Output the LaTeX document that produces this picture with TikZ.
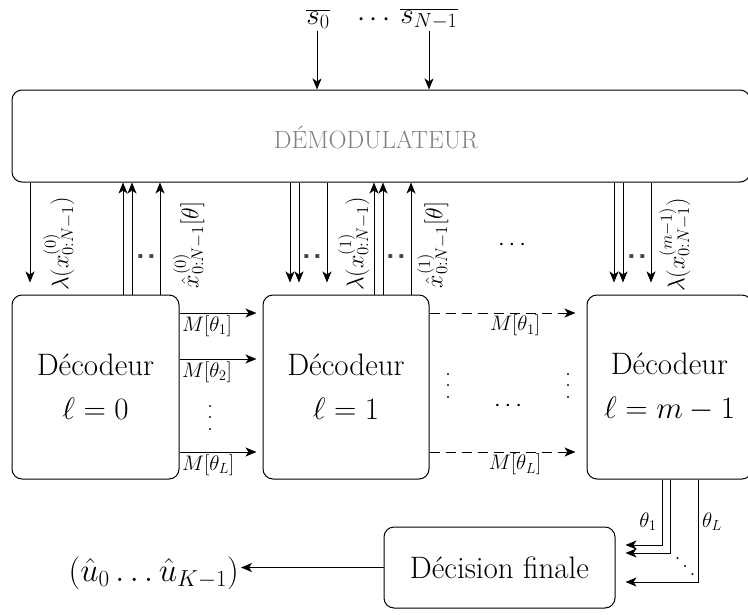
\RequirePackage{fix-cm}
\documentclass[tikz,border=0pt]{standalone}
\usepackage{fontspec}
\usetikzlibrary{arrows.meta,calc}
\newcommand\myvd{\vbox{\baselineskip=0.48em\lineskiplimit=-20pt\hbox{.}\hbox{.}\hbox{.}}}
\newcommand\mydd{\mbox{\raisebox{16pt}{.}\kern1.5pt\raisebox{8pt}{.}\kern1.5pt.}}
\tikzset{
  box/.style={draw, rounded corners=10pt, line width=1pt},
  arr/.style={-{Stealth[length=11pt,width=9pt,inset=3pt]}, line width=1pt},
  lab/.style={font=\fontsize{24}{28}\selectfont, inner sep=0pt},
  small/.style={font=\fontsize{21}{24}\selectfont, inner sep=0pt},
  big/.style={font=\fontsize{31}{44}\selectfont},
  top/.style={font=\fontsize{29}{34}\selectfont, inner sep=0pt},
  gdots/.style={font=\sffamily\bfseries\fontsize{30}{30}\selectfont, text=gray!55!black, inner sep=0pt},
  dsh/.style={dash pattern=on 10pt off 6pt}
}
\begin{document}
\begin{tikzpicture}[x=1pt,y=-1pt]
\useasboundingbox (0,0) rectangle (748,614);

% boxes
\node[box, minimum width=738pt, minimum height=92pt] (dem) at (381,136) {};
\node[font=\fontsize{25}{30}\selectfont, text=gray] (demt) at (376,138) {DÉMODULATEUR};
\node[box, big, minimum width=167pt, minimum height=184pt, align=center] (d0) at (95.5,387) {Décodeur\\$\ell = 0$};
\node[box, big, minimum width=166pt, minimum height=184pt, align=center] (d1) at (346,387) {Décodeur\\$\ell = 1$};
\node[box, big, minimum width=165pt, minimum height=184pt, align=center] (dm) at (669.5,387) {Décodeur\\$\ell = m-1$};
\node[box, big, minimum width=231pt, minimum height=81pt] (dec) at (499.5,567.5) {Décision finale};

% inputs
\node[top] (s0) at (318,19) {$\overline{s_0}$};
\node[top] (sd) at (374,20) {$\cdots$};
\node[top] (sN) at (429,19) {$\overline{s_{N-1}}$};
\coordinate (xs0) at (317,0);
\coordinate (xsN) at (429,0);
\draw[arr, shorten <=2pt] (s0.south -| xs0) -- (dem.north -| xs0);
\draw[arr, shorten <=2pt] (sN.south -| xsN) -- (dem.north -| xsN);

% down arrows demodulator -> decoders
\foreach \x/\t in {30/d0, 290/d1, 299/d1, 327/d1, 614/dm, 623/dm, 651/dm}{
  \coordinate (c) at (\x,0);
  \draw[arr, shorten >=12pt] (dem.south -| c) -- (\t.north -| c);
}
% up arrows decoders -> demodulator
\foreach \x/\t in {123/d0, 132/d0, 160/d0, 374/d1, 383/d1, 411/d1}{
  \coordinate (c) at (\x,0);
  \draw[arr] (\t.north -| c) -- (dem.south -| c);
}
% grey dots
\node[gdots] (g0) at (146,257) {.\kern2pt.};
\node[gdots] (g1) at (312,257) {.\kern2pt.};
\node[gdots] (g2) at (396,257) {.\kern2pt.};
\node[gdots] (g3) at (637,257) {.\kern2pt.};

% rotated labels
\node[lab, rotate=90] (l0) at (59,244) {$\lambda(x^{(0)}_{0:N-1})$};
\node[lab, rotate=90] (h0) at (189,245) {$\hat{x}^{(0)}_{0:N-1}[\theta]$};
\node[lab, rotate=90] (l1) at (354,244) {$\lambda(x^{(1)}_{0:N-1})$};
\node[lab, rotate=90] (h1) at (433,245) {$\hat{x}^{(1)}_{0:N-1}[\theta]$};
\node[lab, rotate=90] (lm) at (675,245) {$\lambda(x^{(m-1)}_{0:N-1})$};
\node[lab] (hd) at (512,245) {$\cdots$};

% decoder 0 -> decoder 1
\foreach \y/\k in {313/1, 359/2, 452/L}{
  \coordinate (r) at (0,\y);
  \draw[arr, shorten >=6pt] (d0.east |- r) -- (d1.west |- r)
     node[pos=0, anchor=north west, small, inner sep=2pt] {$M[\theta_\k]$};
}
\node[lab] (v0) at (210,418) {\myvd};

% decoder 1 -> decoder m-1 (dashed)
\foreach \y in {313, 452}{
  \coordinate (r) at (0,\y);
  \draw[arr, dsh, shorten >=11pt] (d1.east |- r) -- (dm.west |- r);
}
\coordinate (r1) at (0,313);
\coordinate (rL) at (0,452);
\node[small, anchor=north] (m1) at ($(d1.east |- r1)!0.545!(dm.west |- r1)+(0,2)$) {$M[\theta_1]$};
\node[small, anchor=north] (mL) at ($(d1.east |- rL)!0.545!(dm.west |- rL)+(0,2)$) {$M[\theta_L]$};
\node[lab] (v1) at (448,386) {\myvd};
\node[lab] (v2) at (568,386) {\myvd};
\node[lab] (hc) at (508,406) {$\cdots$};

% decoder m-1 -> final decision
\coordinate (b1) at (662,545);
\coordinate (b2) at (670,553);
\coordinate (b3) at (698,582);
\draw[arr, shorten >=10pt] (dm.south -| b1) -- (b1) -- (dec.east |- b1);
\draw[arr, shorten >=10pt] (dm.south -| b2) -- (b2) -- (dec.east |- b2);
\draw[arr, shorten >=10pt] (dm.south -| b3) -- (b3) -- (dec.east |- b3);
\node[small] (t1) at (648,522) {$\theta_1$};
\node[small] (tL) at (712,522) {$\theta_L$};
\node[lab] (dd) at (685,567) {\mydd};

% output
\node[font=\fontsize{33}{40}\selectfont, anchor=east, inner sep=2pt] (out) at (241,573) {$(\hat{u}_0\ldots\hat{u}_{K-1})$};
\draw[arr] (dec.west) -- (out.east |- dec.west);
\end{tikzpicture}
\end{document}
